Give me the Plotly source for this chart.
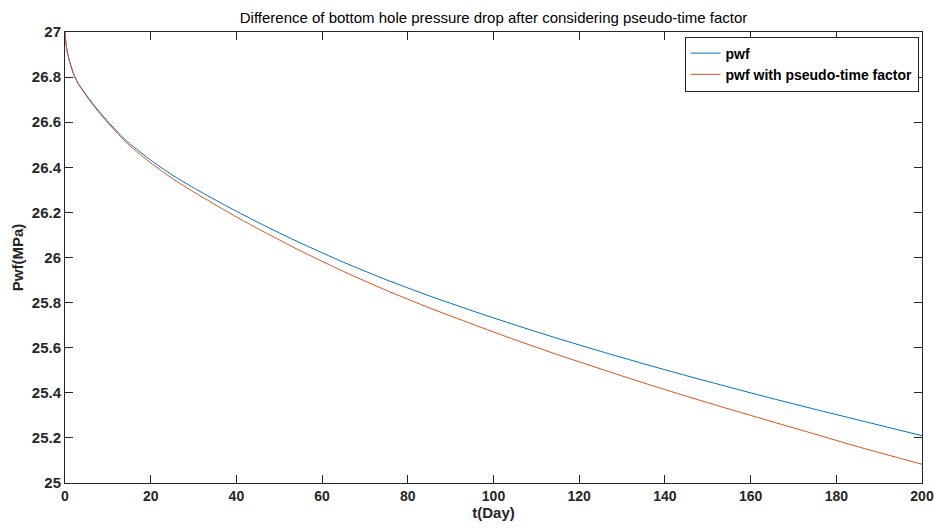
import plotly.graph_objects as go

t_days = [0, 0.25, 0.5, 1, 2, 3, 5, 7.5, 10, 12.5, 15, 20, 25, 30, 35, 40, 45, 50, 55, 65, 75, 85, 95, 105, 115, 125, 135, 145, 155, 165, 175, 185, 200]
pwf = [27.0, 26.945, 26.915, 26.875, 26.815, 26.775, 26.72, 26.658, 26.603, 26.552, 26.506, 26.432, 26.366, 26.309, 26.256, 26.205, 26.156, 26.109, 26.064, 25.979, 25.901, 25.83, 25.764, 25.701, 25.641, 25.584, 25.529, 25.476, 25.425, 25.375, 25.327, 25.28, 25.21]
pwf_pseudo = [27.0, 26.945, 26.915, 26.873, 26.812, 26.772, 26.716, 26.653, 26.597, 26.545, 26.497, 26.42, 26.351, 26.291, 26.235, 26.18, 26.128, 26.078, 26.029, 25.938, 25.854, 25.777, 25.705, 25.635, 25.569, 25.506, 25.444, 25.385, 25.328, 25.272, 25.217, 25.161, 25.083]

x_ticks = [0, 20, 40, 60, 80, 100, 120, 140, 160, 180, 200]
y_ticks = [25, 25.2, 25.4, 25.6, 25.8, 26, 26.2, 26.4, 26.6, 26.8, 27]
y_tick_text = ["25", "25.2", "25.4", "25.6", "25.8", "26", "26.2", "26.4", "26.6", "26.8", "27"]

title_text = "Difference of bottom hole pressure drop after considering pseudo-time factor"
series_names = ["pwf", "pwf with pseudo-time factor"]

DARK = "#262626"
FONT = "Liberation Sans, Arial, sans-serif"

W, H = 935, 532

fig = go.Figure()
fig.add_trace(go.Scatter(x=t_days, y=pwf, mode="lines", name=series_names[0],
                         line=dict(color="#0072BD", width=1, shape="spline", smoothing=0.5)))
fig.add_trace(go.Scatter(x=t_days, y=pwf_pseudo, mode="lines", name=series_names[1],
                         line=dict(color="#D95319", width=1, shape="spline", smoothing=0.5)))

axis_common = dict(showgrid=False, zeroline=False, showline=True, linecolor=DARK, linewidth=1,
                   ticks="inside", ticklen=8, tickwidth=1, tickcolor=DARK, mirror="ticks",
                   automargin=False)

fig.update_layout(
    width=W, height=H,
    paper_bgcolor="white", plot_bgcolor="white",
    margin=dict(l=65, r=13, t=32, b=49),
    title=dict(text=title_text, x=(65 + 922) / 2 / W, xanchor="center", y=1 - 18 / H, yanchor="middle",
               font=dict(family=FONT, size=15, color="black")),
    xaxis=dict(range=[0, 200], tickvals=x_ticks,
               tickfont=dict(family=FONT, size=14, color=DARK, weight="bold"),
               title=dict(text="t(Day)", standoff=4,
                          font=dict(family=FONT, size=15, color=DARK, weight="bold")),
               **axis_common),
    yaxis=dict(range=[25, 27], tickvals=y_ticks, ticktext=y_tick_text,
               tickfont=dict(family=FONT, size=15, color=DARK, weight="bold"),
               title=dict(text="Pwf(MPa)", standoff=4,
                          font=dict(family=FONT, size=15, color=DARK, weight="bold")),
               **axis_common),
    legend=dict(x=0.996, xanchor="right", y=0.99, yanchor="top",
                bgcolor="white", bordercolor=DARK, borderwidth=1,
                font=dict(family=FONT, size=14, color="black", weight="bold"),
                itemwidth=30, tracegroupgap=0),
    showlegend=True,
)

fig.write_html("out.html", config={"displayModeBar": False},
               post_script="document.body.style.margin='0';document.body.style.overflow='hidden';")
